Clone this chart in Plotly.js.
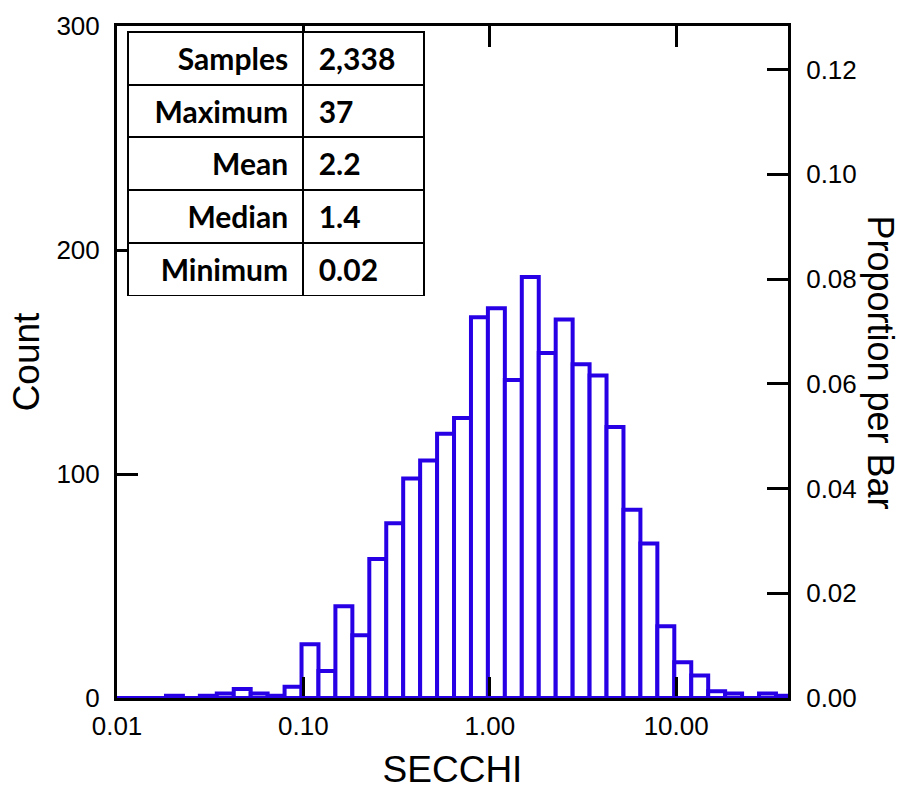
<!DOCTYPE html>
<html>
<head>
<meta charset="utf-8">
<script src="https://cdn.plot.ly/plotly-3.0.1.min.js"></script>
<style>
  html, body { margin: 0; padding: 0; background: #ffffff; }
  #chart { width: 902px; height: 790px; }
</style>
</head>
<body>
<div id="chart"></div>
<script>
// Histogram of SECCHI readings, log-spaced bins (11 per decade).
// Bin k spans 10^((k)/11 + shift) .. 10^((k+1)/11 + shift).
const binIndex = [-22, -21, -20, -19, -18, -17, -16, -15, -14, -13, -12, -11, -10, -9, -8, -7,
                  -6, -5, -4, -3, -2, -1, 0, 1, 2, 3, 4, 5, 6, 7, 8, 9,
                  10, 11, 12, 13, 14, 15, 16, 17];
const counts = [0, 0, 0, 1, 0, 1, 2, 4, 2, 1, 5, 24, 12, 41, 28, 62,
                78, 98, 106, 118, 125, 170, 174, 142, 188, 154, 169, 149, 144, 121, 84, 69,
                32, 16, 10, 3, 2, 0, 2, 1];
const binsPerDecade = 11;
const binShift = -0.01;

// Summary statistics table
const statNames = ['Samples', 'Maximum', 'Mean', 'Median', 'Minimum'];
const statValues = ['2,338', '37', '2.2', '1.4', '0.02'];
const sampleCount = 2338;

// Axis ticks
const xTickExp = [-2, -1, 0, 1];
const xTickText = ['0.01', '0.10', '1.00', '10.00'];
const countTicks = [0, 100, 200, 300];
const countMax = 300;

const BLUE = 'rgb(40,0,230)';
const AXIS_FONT = { family: 'Liberation Sans, Arial, sans-serif', size: 26, color: '#000' };
const TITLE_FONT = { family: 'Liberation Sans, Arial, sans-serif', size: 37, color: '#000' };
const RIGHT_TITLE_FONT = { family: 'Liberation Sans, Arial, sans-serif', size: 36, color: '#000' };
const TABLE_FONT = { family: 'Lato, Open Sans, sans-serif', size: 30, color: '#000' };
const NB = '\u00a0';

// bar centres in log10 units
const centers = binIndex.map(k => (k + 0.5) / binsPerDecade + binShift);
const proportions = counts.map(c => c / sampleCount);

const bars = {
  type: 'bar',
  x: centers,
  y: counts,
  width: 1 / binsPerDecade,
  marker: { color: '#ffffff', line: { color: BLUE, width: 4 } },
  hoverinfo: 'skip',
  showlegend: false,
  xaxis: 'x', yaxis: 'y'
};

// proportion scale carried on the right-hand axis
const propTrace = {
  type: 'scatter',
  mode: 'markers',
  x: centers,
  y: proportions,
  marker: { opacity: 0, size: 1 },
  hoverinfo: 'skip',
  showlegend: false,
  xaxis: 'x', yaxis: 'y2'
};

const nameCell = s => '<b>' + s + NB + '</b>';
const valueCell = s => '<b>' + NB + s + '</b>';

const statsTable = {
  type: 'table',
  domain: { x: [0.0164, 0.459], y: [0.598, 0.991] },
  columnwidth: [176, 121],
  header: {
    values: [nameCell(statNames[0]), valueCell(statValues[0])],
    align: ['right', 'left'],
    height: 52.7,
    fill: { color: '#ffffff' },
    line: { color: '#000', width: 2 },
    font: TABLE_FONT
  },
  cells: {
    values: [statNames.slice(1).map(nameCell), statValues.slice(1).map(valueCell)],
    align: ['right', 'left'],
    height: 52.7,
    fill: { color: '#ffffff' },
    line: { color: '#000', width: 2 },
    font: TABLE_FONT
  }
};

const layout = {
  width: 902,
  height: 790,
  margin: { l: 117, r: 114, t: 26, b: 92 },
  paper_bgcolor: '#ffffff',
  plot_bgcolor: '#ffffff',
  bargap: 0,
  showlegend: false,
  xaxis: {
    range: [-2, 1.6],
    tickmode: 'array',
    tickvals: xTickExp,
    ticktext: xTickText,
    ticks: 'inside',
    ticklen: 21,
    tickwidth: 3,
    tickcolor: '#000',
    showline: true,
    linewidth: 3,
    linecolor: '#000',
    mirror: 'ticks',
    showgrid: false,
    zeroline: false,
    tickfont: AXIS_FONT,
    ticklabelstandoff: 3,
    title: { text: 'SECCHI', font: TITLE_FONT, standoff: 16 }
  },
  yaxis: {
    range: [0, countMax],
    tickmode: 'array',
    tickvals: countTicks,
    ticks: 'inside',
    ticklen: 21,
    tickwidth: 3,
    tickcolor: '#000',
    showline: true,
    linewidth: 3,
    linecolor: '#000',
    showgrid: false,
    zeroline: false,
    tickfont: AXIS_FONT,
    ticklabelstandoff: 9,
    title: { text: 'Count', font: TITLE_FONT, standoff: 6 }
  },
  yaxis2: {
    overlaying: 'y',
    side: 'right',
    anchor: 'x',
    range: [0, countMax / sampleCount],
    tickmode: 'linear',
    tick0: 0,
    dtick: 0.02,
    tickformat: '.2f',
    ticks: 'inside',
    ticklen: 21,
    tickwidth: 3,
    tickcolor: '#000',
    showline: true,
    linewidth: 3,
    linecolor: '#000',
    showgrid: false,
    zeroline: false,
    tickfont: AXIS_FONT,
    ticklabelstandoff: 10
  },
  shapes: [
    { type: 'line', xref: 'paper', yref: 'y', x0: 0, x1: 1, y0: 0, y1: 0,
      line: { color: BLUE, width: 4 } }
  ],
  annotations: [
    { text: 'Proportion per Bar', xref: 'paper', yref: 'paper', x: 1.138, y: 0.5,
      xanchor: 'center', yanchor: 'middle', textangle: 90, showarrow: false,
      font: RIGHT_TITLE_FONT }
  ]
};

Plotly.newPlot('chart', [bars, propTrace, statsTable], layout, { displayModeBar: false, staticPlot: true });
</script>
</body>
</html>
